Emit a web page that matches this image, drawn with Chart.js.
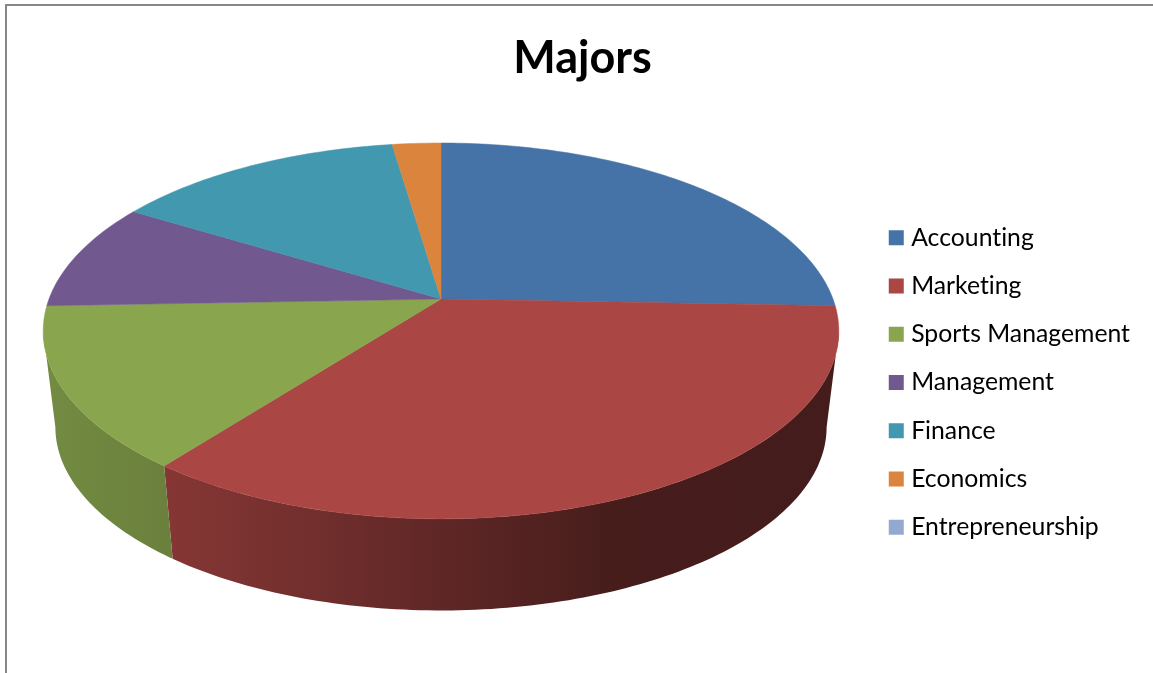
<!DOCTYPE html>
<html>
<head>
<meta charset="utf-8">
<title>Majors</title>
<script src="https://cdn.jsdelivr.net/npm/chart.js@4"></script>
<style>
    html, body { margin: 0; padding: 0; background: #fff; overflow: hidden; }
    #frame { position: absolute; left: 5px; top: 4px; right: 0; bottom: 0; border-top: 2px solid #868686; border-left: 2px solid #868686; }
    #majorsChart { position: absolute; left: 0; top: 0; }
</style>
</head>
<body>
<div id="frame"></div>
<canvas id="majorsChart" width="1153" height="673"></canvas>
<script>
const categories = ["Accounting", "Marketing", "Sports Management", "Management", "Finance", "Economics", "Entrepreneurship"];
const students = [11, 15, 6, 4, 6, 1, 0];
const colors = ["#4572A7", "#AA4643", "#89A54E", "#71588F", "#4198AF", "#DB843D", "#93A9CF"];

// projection of the tilted disc, the rim is the same circle further down
const persp = 0.17;
const topFace = { x: 441, y: 299, a: 392, b: 182.5 };
const bottomFace = { x: 441, y: 396, a: 380, b: 178 };

// how dark the rim gets going left to right, [x share, factor]
const rimStops = [[0, 0.84], [0.2, 0.76], [0.5, 0.56], [0.72, 0.41], [1, 0.40]];

function project(face, angle) {
    const u = Math.cos(angle);
    const v = -Math.sin(angle);
    const w = 1 + persp * v;
    return [face.x + face.a * u / w, face.y - face.b * v / w];
}

function shaded(hex, f) {
    const n = parseInt(hex.slice(1), 16);
    const r = Math.round(((n >> 16) & 255) * f);
    const g = Math.round(((n >> 8) & 255) * f);
    const b = Math.round((n & 255) * f);
    return `rgb(${r},${g},${b})`;
}

function facePath(ctx, face, from, to, step) {
    for (let a = from; a < to; a += step) {
        const p = project(face, a);
        ctx.lineTo(p[0], p[1]);
    }
    const end = project(face, to);
    ctx.lineTo(end[0], end[1]);
}

const pie3d = {
    id: "pie3d",
    beforeLayout(chart) {
        // a tiny spacing keeps the canvas from joining "ti" in the labels
        chart.ctx.letterSpacing = "0.01px";
    },
    beforeDatasetDraw(chart, args) {
        const ctx = chart.ctx;
        const arcs = args.meta.data;
        const step = Math.PI / 180;
        const frontFrom = Math.asin(persp);
        const frontTo = Math.PI - frontFrom;

        // rim first, only the front part shows
        arcs.forEach((arc, i) => {
            const from = Math.max(arc.startAngle, frontFrom);
            const to = Math.min(arc.endAngle, frontTo);
            if (to <= from) return;
            const grad = ctx.createLinearGradient(43, 0, 839, 0);
            rimStops.forEach(s => grad.addColorStop(s[0], shaded(colors[i], s[1])));
            ctx.beginPath();
            const start = project(topFace, from);
            ctx.moveTo(start[0], start[1]);
            facePath(ctx, topFace, from, to, step);
            for (let a = to; a > from; a -= step) {
                const p = project(bottomFace, a);
                ctx.lineTo(p[0], p[1]);
            }
            const last = project(bottomFace, from);
            ctx.lineTo(last[0], last[1]);
            ctx.closePath();
            ctx.fillStyle = grad;
            ctx.fill();
        });

        // top face
        arcs.forEach((arc, i) => {
            if (arc.endAngle - arc.startAngle <= 0) return;
            ctx.beginPath();
            ctx.moveTo(topFace.x, topFace.y);
            facePath(ctx, topFace, arc.startAngle, arc.endAngle, step);
            ctx.closePath();
            ctx.fillStyle = colors[i];
            ctx.strokeStyle = colors[i];
            ctx.lineWidth = 0.5;
            ctx.fill();
            ctx.stroke();
        });
        return false;
    }
};

new Chart(document.getElementById("majorsChart").getContext("2d"), {
    type: "pie",
    data: {
        labels: categories,
        datasets: [{
            label: "Majors",
            data: students,
            backgroundColor: colors,
            borderColor: colors,
            borderWidth: 10 // legend swatch size, the slices are drawn by pie3d
        }]
    },
    plugins: [pie3d],
    options: {
        responsive: false,
        animation: false,
        layout: { padding: { left: 25, right: 13, top: 0, bottom: 0 } },
        plugins: {
            tooltip: { enabled: false },
            title: {
                display: true,
                text: "Majors",
                color: "#000000",
                font: { family: "Lato", size: 45, weight: "bold" },
                padding: { top: 31, bottom: 7 }
            },
            legend: {
                position: "right",
                fullSize: false,
                labels: {
                    boxWidth: 5,
                    boxHeight: 5,
                    padding: 23.5,
                    color: "#000000",
                    font: { family: "Lato", size: 24.75 }
                }
            }
        }
    }
});
</script>
</body>
</html>
